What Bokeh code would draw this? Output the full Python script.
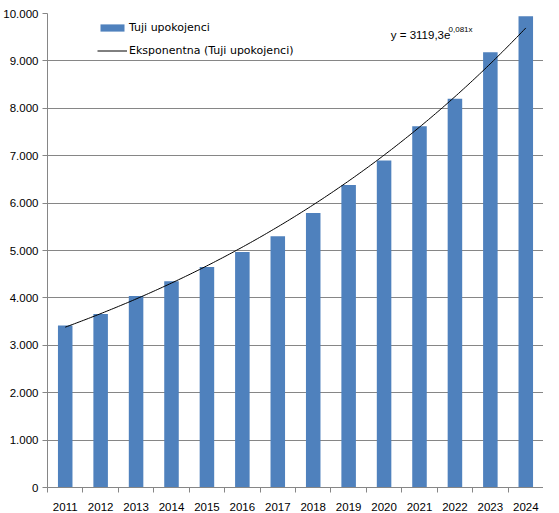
import numpy as np
from bokeh.plotting import figure
from bokeh.models import FixedTicker, Legend, LegendItem, Label
from bokeh.embed import file_html
from bokeh.resources import INLINE

# data
years = ["2011", "2012", "2013", "2014", "2015", "2016", "2017",
         "2018", "2019", "2020", "2021", "2022", "2023", "2024"]
pensioners = [3420, 3660, 4040, 4350, 4650, 4970, 5300,
              5790, 6380, 6900, 7620, 8200, 9180, 9940]
y_ticks = [0, 1000, 2000, 3000, 4000, 5000, 6000, 7000, 8000, 9000, 10000]
y_tick_labels = ["0", "1.000", "2.000", "3.000", "4.000", "5.000",
                 "6.000", "7.000", "8.000", "9.000", "10.000"]

# exponential trendline shown on the chart: y = 3119,3 e^(0,081x)
trend_a = 3119.3
trend_b = 0.081
trend_text = "y = 3119,3e"
trend_exp_text = "0,081x"

bar_label = "Tuji upokojenci"
trend_label = "Eksponentna (Tuji upokojenci)"

x = list(range(1, len(years) + 1))
xs = np.linspace(1, len(years), 200)
trend = trend_a * np.exp(trend_b * xs)

GRAY = "#868686"
TICK_FONT = "Liberation Sans"

W, H = 543, 513
TOP, BOTTOM = 13, 26
frame_h = H - TOP - BOTTOM

p = figure(width=W, height=H, x_range=(0.5, len(years) + 0.5), y_range=(0, 10000),
           output_backend="svg", toolbar_location=None, tools="",
           min_border_left=44, min_border_right=0, min_border_top=TOP, min_border_bottom=BOTTOM)
p.outline_line_color = None

bars = p.vbar(x=x, top=pensioners, width=0.41, fill_color="#4F81BD", line_color=None)
tline = p.line(xs, trend, line_color="black", line_width=1)

# y axis
p.yaxis.ticker = FixedTicker(ticks=y_ticks)
p.yaxis.major_label_overrides = dict(zip(y_ticks, y_tick_labels))
p.yaxis.axis_line_color = GRAY
p.yaxis.major_tick_line_color = GRAY
p.yaxis.major_tick_out = 5
p.yaxis.major_tick_in = 0
p.yaxis.minor_tick_line_color = None
p.yaxis.major_label_standoff = 4
p.yaxis.major_label_text_font = TICK_FONT
p.yaxis.major_label_text_font_size = "11.5px"
p.yaxis.major_label_text_color = "black"

# x axis: labels centred on bars, tick marks between categories
p.xaxis.ticker = FixedTicker(ticks=x, minor_ticks=[i + 0.5 for i in range(len(years) + 1)])
p.xaxis.major_label_overrides = dict(zip(x, years))
p.xaxis.axis_line_color = GRAY
p.xaxis.major_tick_line_color = None
p.xaxis.major_tick_out = 0
p.xaxis.major_tick_in = 0
p.xaxis.minor_tick_line_color = GRAY
p.xaxis.minor_tick_out = 5
p.xaxis.minor_tick_in = 0
p.xaxis.major_label_standoff = 10
p.xaxis.major_label_text_font = TICK_FONT
p.xaxis.major_label_text_font_size = "11.5px"
p.xaxis.major_label_text_color = "black"

p.ygrid.grid_line_color = GRAY
p.xgrid.grid_line_color = None

legend = Legend(items=[LegendItem(label=bar_label, renderers=[bars]),
                       LegendItem(label=trend_label, renderers=[tline])],
                location=(50, frame_h - 8 - 36))
legend.glyph_width = 30
legend.glyph_height = 9
legend.label_height = 13
legend.spacing = 10
legend.padding = 0
legend.margin = 0
legend.label_standoff = 2
legend.border_line_color = None
legend.background_fill_alpha = 0
legend.label_text_font = "DejaVu Sans"
legend.label_text_font_size = "11px"
legend.label_text_color = "black"
p.add_layout(legend)

p.add_layout(Label(x=10.19, y=9545, text=trend_text, text_font=TICK_FONT,
                   text_font_size="11.5px", text_color="black", text_baseline="alphabetic"))
p.add_layout(Label(x=11.82, y=9660, text=trend_exp_text, text_font=TICK_FONT,
                   text_font_size="8px", text_color="black", text_baseline="alphabetic"))

open("out.html", "w").write(file_html(p, INLINE))
